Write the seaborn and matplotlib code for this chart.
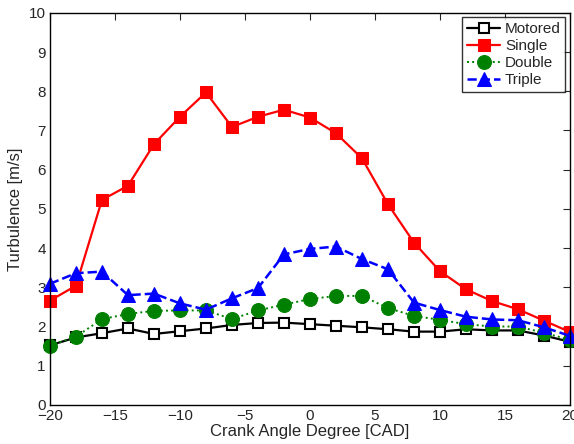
import matplotlib
matplotlib.use("Agg")
import matplotlib.pyplot as plt
import seaborn as sns
import pandas as pd

cad = [-20, -18, -16, -14, -12, -10, -8, -6, -4, -2, 0, 2, 4, 6, 8, 10, 12, 14, 16, 18, 20]
motored = [1.52, 1.72, 1.83, 1.95, 1.81, 1.88, 1.95, 2.04, 2.09, 2.10, 2.06, 2.02, 1.98, 1.93, 1.87, 1.87, 1.93, 1.90, 1.90, 1.77, 1.61]
single = [2.66, 3.04, 5.23, 5.59, 6.65, 7.35, 7.97, 7.09, 7.35, 7.53, 7.33, 6.93, 6.29, 5.12, 4.14, 3.41, 2.95, 2.65, 2.44, 2.15, 1.86]
double = [1.51, 1.74, 2.19, 2.32, 2.40, 2.41, 2.41, 2.19, 2.41, 2.56, 2.70, 2.78, 2.78, 2.47, 2.27, 2.17, 2.06, 2.00, 2.00, 1.84, 1.66]
triple = [3.09, 3.36, 3.40, 2.80, 2.84, 2.59, 2.43, 2.72, 2.98, 3.84, 3.98, 4.04, 3.72, 3.46, 2.61, 2.42, 2.25, 2.18, 2.16, 1.98, 1.76]
series_names = ["Motored", "Single", "Double", "Triple"]
x_ticks = [-20, -15, -10, -5, 0, 5, 10, 15, 20]
y_ticks = list(range(0, 11))

sns.set_style("white")
plt.rcParams['font.family'] = ['Liberation Sans', 'DejaVu Sans']

fig = plt.figure(figsize=(5.74, 4.44), dpi=100)
ax = fig.add_axes([0.087, 0.088, 0.906, 0.883])

styles = {
    "Motored": dict(color="black", marker="s", linestyle="-", markersize=7, markerfacecolor="white",
                    markeredgecolor="black", markeredgewidth=1.5, linewidth=1.6),
    "Single": dict(color="#ff0000", marker="s", linestyle="-", markersize=9, markerfacecolor="#ff0000",
                   markeredgecolor="#ff0000", linewidth=1.6),
    "Double": dict(color="#008000", marker="o", linestyle=":", markersize=10, markerfacecolor="#008000",
                   markeredgecolor="#008000", linewidth=1.4),
    "Triple": dict(color="#0000ff", marker="^", linestyle="--", markersize=10, markerfacecolor="#0000ff",
                   markeredgecolor="#0000ff", linewidth=1.8),
}
data = {"Motored": motored, "Single": single, "Double": double, "Triple": triple}

for name in series_names:
    df = pd.DataFrame({"CAD": cad, "val": data[name]})
    st = styles[name]
    sns.lineplot(data=df, x="CAD", y="val", ax=ax, label=name, clip_on=False, **st)

ax.set_xlim(-20, 20)
ax.set_ylim(0, 10)
ax.set_xticks(x_ticks)
ax.set_xticklabels(["\u221220", "\u221215", "\u221210", "\u22125", "0", "5", "10", "15", "20"])
ax.set_yticks(y_ticks)
ax.tick_params(direction="in", length=5, width=0.8, top=True, right=True, labelsize=11, pad=3)
for s in ax.spines.values():
    s.set_color("black")
    s.set_linewidth(1.0)
ax.set_xlabel("Crank Angle Degree [CAD]", fontsize=12, labelpad=1)
ax.set_ylabel("Turbulence [m/s]", fontsize=12, labelpad=4)

leg = ax.legend(loc="upper right", fontsize=11, frameon=True, fancybox=False, edgecolor="black",
                handlelength=2.2, handletextpad=0.3, borderpad=0.3, labelspacing=0.2,
                borderaxespad=0.3)
leg.get_frame().set_linewidth(1.0)

fig.savefig("out.png", dpi=100)
